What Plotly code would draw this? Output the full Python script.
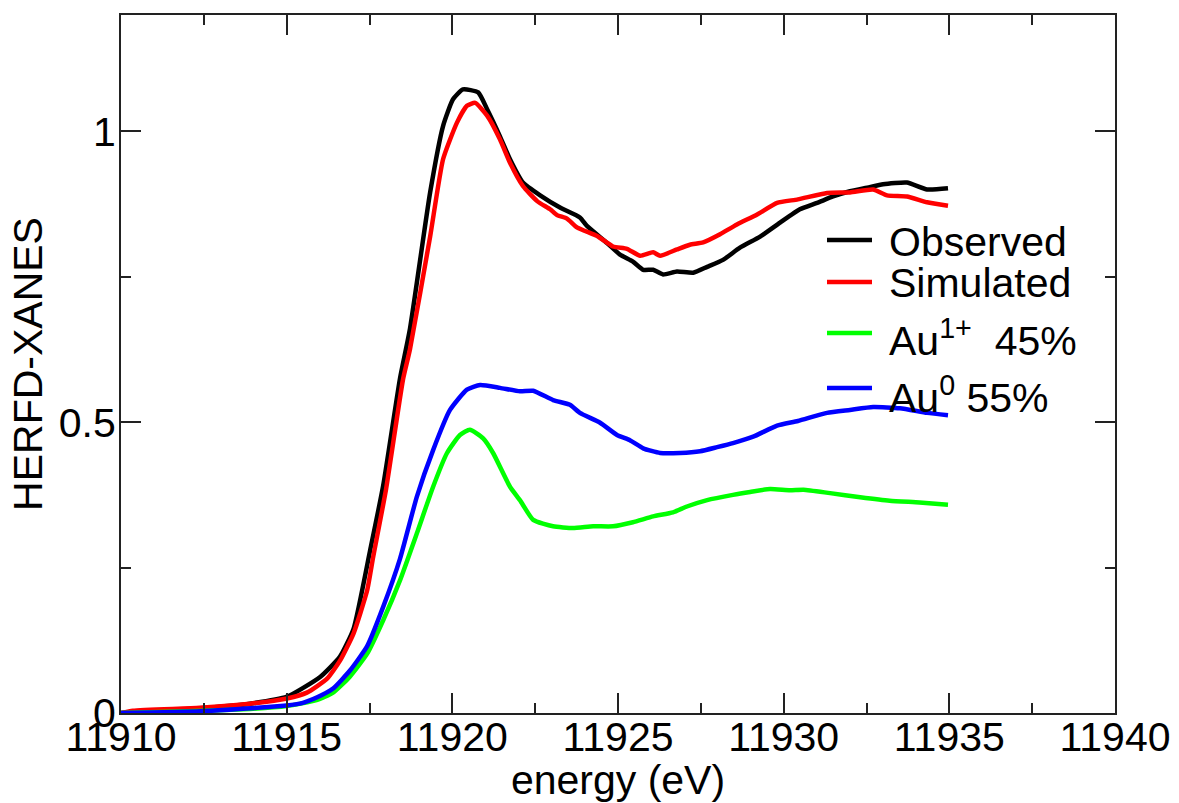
import plotly.graph_objects as go

# ---- data ----
obs_e = [11910.0, 11911.0, 11912.38, 11913.89, 11915.01, 11916.01, 11916.61, 11917.02, 11917.52, 11917.91,
         11918.42, 11918.72, 11919.33, 11919.72, 11920.02, 11920.32, 11920.78, 11921.05, 11921.44, 11921.74,
         11922.13, 11922.65, 11923.25, 11923.85, 11924.07, 11924.67, 11925.06, 11925.45, 11925.76, 11926.06,
         11926.36, 11926.78, 11927.27, 11927.69, 11928.17, 11928.68, 11929.29, 11929.89, 11930.49, 11931.01,
         11931.49, 11932.0, 11932.52, 11933.0, 11933.72, 11934.33, 11934.96]
obs_y = [0.0, 0.003, 0.008, 0.016, 0.028, 0.062, 0.097, 0.145, 0.28, 0.39,
         0.575, 0.66, 0.895, 1.009, 1.055, 1.072, 1.067, 1.038, 0.991, 0.952,
         0.912, 0.89, 0.869, 0.852, 0.837, 0.808, 0.788, 0.776, 0.762, 0.762,
         0.754, 0.759, 0.757, 0.767, 0.779, 0.80, 0.819, 0.843, 0.866, 0.877,
         0.888, 0.897, 0.903, 0.909, 0.912, 0.90, 0.902]

sim_e = [11910.0, 11910.36, 11912.38, 11913.89, 11915.01, 11915.61, 11916.22, 11916.61, 11917.02, 11917.43,
         11917.61, 11918.0, 11918.51, 11918.72, 11919.33, 11919.72, 11920.14, 11920.44, 11920.69, 11921.05,
         11921.44, 11921.74, 11922.13, 11922.56, 11922.95, 11923.16, 11923.46, 11923.76, 11924.37, 11924.85,
         11925.27, 11925.67, 11926.06, 11926.27, 11926.78, 11927.17, 11927.57, 11928.08, 11928.59, 11929.20,
         11929.80, 11930.43, 11931.31, 11932.0, 11932.70, 11933.12, 11933.72, 11934.33, 11934.96]
sim_y = [0.0, 0.004, 0.009, 0.016, 0.025, 0.035, 0.059, 0.09, 0.137, 0.211,
         0.268, 0.385, 0.573, 0.625, 0.819, 0.952, 1.015, 1.044, 1.049, 1.027,
         0.986, 0.946, 0.906, 0.88, 0.866, 0.856, 0.85, 0.835, 0.82, 0.802,
         0.798, 0.786, 0.792, 0.786, 0.797, 0.805, 0.809, 0.823, 0.84, 0.857,
         0.877, 0.883, 0.894, 0.895, 0.90, 0.89, 0.888, 0.878, 0.872]

au1_e = [11910.0, 11912.0, 11913.9, 11915.0, 11915.9, 11916.40, 11916.9, 11917.43, 11917.91, 11918.42,
         11918.93, 11919.42, 11919.84, 11920.23, 11920.53, 11920.93, 11921.23, 11921.74, 11922.04, 11922.44,
         11923.04, 11923.64, 11924.25, 11924.85, 11925.45, 11926.06, 11926.66, 11927.08, 11927.69, 11928.47,
         11928.99, 11929.59, 11930.19, 11930.6, 11931.4, 11932.31, 11933.2, 11934.1, 11934.96]
au1_y = [0.0, 0.003, 0.007, 0.012, 0.022, 0.035, 0.062, 0.102, 0.159, 0.228,
         0.309, 0.389, 0.447, 0.478, 0.487, 0.472, 0.447, 0.389, 0.366, 0.332,
         0.321, 0.318, 0.321, 0.321, 0.328, 0.338, 0.345, 0.355, 0.366, 0.375,
         0.38, 0.385, 0.383, 0.384, 0.378, 0.371, 0.365, 0.362, 0.358]

au0_e = [11910.0, 11912.4, 11913.9, 11915.0, 11915.4, 11915.92, 11916.40, 11916.91, 11917.43, 11917.91,
         11918.42, 11918.93, 11919.42, 11919.93, 11920.44, 11920.84, 11921.44, 11922.04, 11922.44, 11923.04,
         11923.55, 11923.85, 11924.46, 11924.97, 11925.36, 11925.76, 11926.27, 11926.87, 11927.48, 11927.99,
         11928.47, 11929.08, 11929.80, 11930.43, 11931.31, 11932.00, 11932.70, 11933.51, 11934.33, 11934.96]
au0_y = [0.0, 0.003, 0.008, 0.013, 0.016, 0.027, 0.042, 0.073, 0.115, 0.182,
         0.265, 0.372, 0.452, 0.521, 0.556, 0.564, 0.559, 0.553, 0.554, 0.538,
         0.53, 0.516, 0.499, 0.478, 0.469, 0.455, 0.447, 0.447, 0.450, 0.457,
         0.464, 0.475, 0.494, 0.502, 0.516, 0.521, 0.526, 0.524, 0.516, 0.512]

series_names = ["Observed", "Simulated", "Au<sup>1+</sup>\u00a0\u00a045%", "Au<sup>0</sup> 55%"]
series_colors = ["#000000", "#ff0000", "#00ff00", "#0000ff"]

x_ticks = [11910, 11915, 11920, 11925, 11930, 11935, 11940]
y_ticks = [0, 0.5, 1]

FONT = "Liberation Sans, Arial, Helvetica, sans-serif"
FS = 41
AX = "#222222"

fig = go.Figure()
for xs, ys, name, col in zip([obs_e, sim_e, au1_e, au0_e], [obs_y, sim_y, au1_y, au0_y],
                             series_names, series_colors):
    fig.add_trace(go.Scatter(x=xs, y=ys, mode="lines", name=name, showlegend=False,
                             line=dict(color=col, width=4.5, shape="spline", smoothing=0.5)))

axis_common = dict(
    showline=True, linecolor=AX, linewidth=2, mirror="allticks",
    ticks="inside", ticklen=20, tickwidth=2, tickcolor=AX,
    showgrid=False, zeroline=False,
    tickfont=dict(family=FONT, size=FS, color="#000000"),
)

fig.update_xaxes(
    range=[11910, 11940], tickvals=x_ticks, ticktext=[str(v) for v in x_ticks],
    minor=dict(dtick=2.5, ticklen=10, tickwidth=2, tickcolor=AX, ticks="inside", showgrid=False),
    ticklabelstandoff=-13,
    title=dict(text="energy (eV)", font=dict(family=FONT, size=FS, color="#000000"), standoff=0),
    **axis_common,
)
fig.update_yaxes(
    range=[0, 1.2], tickvals=y_ticks, ticktext=["0", "0.5", "1"],
    minor=dict(dtick=0.25, ticklen=10, tickwidth=2, tickcolor=AX, ticks="inside", showgrid=False),
    ticklabelstandoff=-5,
    title=dict(text="HERFD-XANES", font=dict(family=FONT, size=FS, color="#000000"), standoff=3),
    **axis_common,
)

# ---- legend drawn in the plot corner (paper coordinates) ----
W_PLOT, H_PLOT, L, T = 994, 698, 121, 15
leg_line_y = [240, 282, 333, 388]      # pixel rows of the sample lines
leg_text_bottom = [267, 308, 366, 423]  # pixel rows of the text box bottoms
for name, col, ly, tb in zip(series_names, series_colors, leg_line_y, leg_text_bottom):
    yl = (T + H_PLOT - ly) / H_PLOT
    fig.add_shape(type="line", xref="paper", yref="paper",
                  x0=(827 - L) / W_PLOT, x1=(872 - L) / W_PLOT, y0=yl, y1=yl,
                  line=dict(color=col, width=4.5))
    fig.add_annotation(xref="paper", yref="paper", x=(887 - L) / W_PLOT,
                       y=(T + H_PLOT - tb) / H_PLOT, xanchor="left", yanchor="bottom",
                       text=name, showarrow=False,
                       font=dict(family=FONT, size=FS, color="#000000"))

fig.update_layout(
    width=1179, height=803,
    margin=dict(l=121, r=64, t=15, b=90, autoexpand=False),
    paper_bgcolor="#ffffff", plot_bgcolor="#ffffff",
    font=dict(family=FONT, size=FS, color="#000000"),
    showlegend=False,
)

fig.write_html("out.html")
